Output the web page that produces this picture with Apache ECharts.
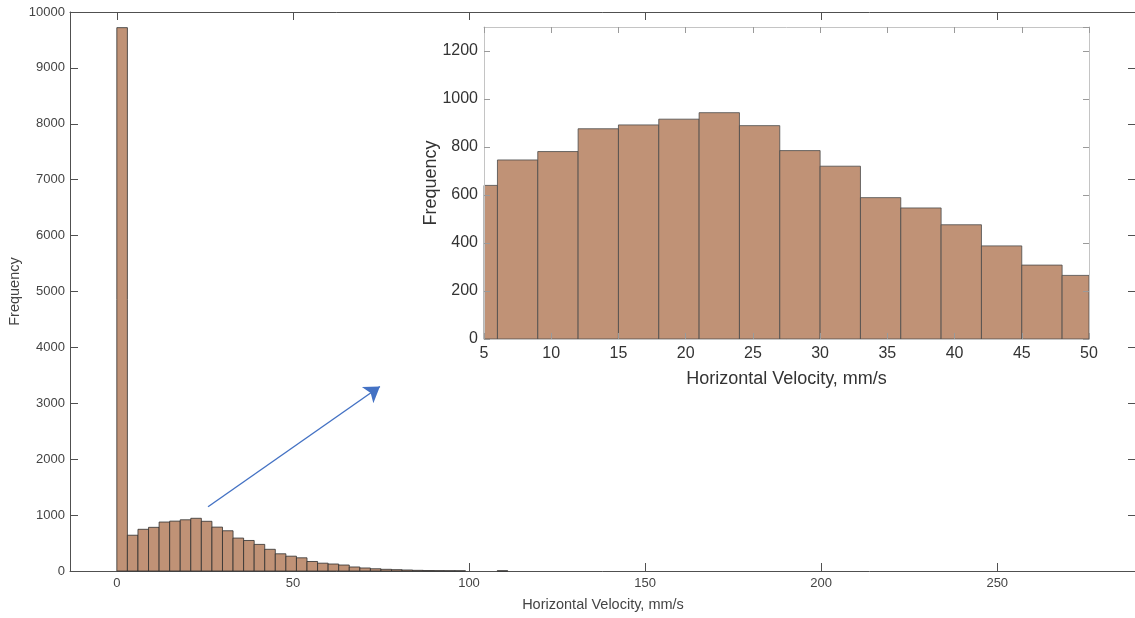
<!DOCTYPE html>
<html>
<head>
<meta charset="utf-8">
<title>Horizontal Velocity histogram</title>
<script src="https://cdn.jsdelivr.net/npm/echarts@6/dist/echarts.min.js"></script>
<style>
  html, body { margin: 0; padding: 0; background: #ffffff; }
  #chart { width: 1135px; height: 618px; }
</style>
</head>
<body>
<div id="chart"></div>
<script>
// Histogram bins: width 3 mm/s, starting at 0
const binStart = 0;
const binWidth = 3;
const counts = [
  9720, 640, 746, 781, 876, 892, 916, 943, 889, 785,
  720, 589, 546, 476, 388, 308, 265, 236, 170, 140,
  125, 107, 72, 54, 40, 30, 24, 18, 12, 8,
  6, 5, 4, 0, 0, 0, 4
];

// Axis ticks
const mainXTicks = [0, 50, 100, 150, 200, 250];
const axisTitleX = 'Horizontal Velocity, mm/s';
const axisTitleY = 'Frequency';

// Arrow pointing from the main histogram hump to the zoomed view
const arrowFrom = [25.9, 1150];
const arrowTo = [74.7, 3300];

const binData = counts.map((c, i) => [binStart + i * binWidth, binStart + (i + 1) * binWidth, c]);

const barFill = '#c09276';
const fontFamily = '"Liberation Sans", Arial, Helvetica, sans-serif';
const plain = v => String(v);

function histRenderer(strokeColor) {
  return function (params, api) {
    const x0 = api.value(0), x1 = api.value(1), y = api.value(2);
    if (!y) return null;
    const p0 = api.coord([x0, y]);
    const p1 = api.coord([x1, 0]);
    const cs = params.coordSys;
    const shape = echarts.graphic.clipRectByRect(
      { x: p0[0], y: p0[1], width: p1[0] - p0[0], height: p1[1] - p0[1] },
      { x: cs.x, y: cs.y, width: cs.width, height: cs.height }
    );
    if (!shape) return null;
    return {
      type: 'rect',
      shape: shape,
      style: { fill: barFill, stroke: strokeColor, lineWidth: 0.8 }
    };
  };
}

const mainLine = { show: true, onZero: false, lineStyle: { color: '#505050', width: 1 } };
const mainTick = { show: true, inside: true, length: 8, lineStyle: { color: '#505050', width: 1 } };
const mainLabel = { color: '#444444', fontSize: 13, fontFamily: fontFamily, formatter: plain };
const mainName = { color: '#444444', fontSize: 14.5, fontFamily: fontFamily };

const inLine = { show: true, onZero: false, lineStyle: { color: '#c4c4c4', width: 1 } };
const inTick = { show: true, inside: true, length: 6, lineStyle: { color: '#9a9a9a', width: 1 } };
const inLabel = { color: '#333333', fontSize: 16, fontFamily: fontFamily, formatter: plain };
const inName = { color: '#333333', fontSize: 18, fontFamily: fontFamily };

const chart = echarts.init(document.getElementById('chart'), null, { renderer: 'canvas' });

chart.setOption({
  backgroundColor: '#ffffff',
  animation: false,
  grid: [
    { left: 70, top: 12, right: -1, bottom: 47, containLabel: false, outerBoundsMode: 'none' },
    { left: 484, top: 27, width: 605, height: 312, containLabel: false, outerBoundsMode: 'none',
      show: true, backgroundColor: '#ffffff', borderWidth: 0, z: 10 }
  ],
  xAxis: [
    {
      type: 'value', gridIndex: 0, position: 'bottom',
      min: -13.3, max: 289.4,
      axisLine: mainLine,
      axisTick: Object.assign({ customValues: mainXTicks }, mainTick),
      axisLabel: Object.assign({ customValues: mainXTicks, margin: 6 }, mainLabel),
      splitLine: { show: false },
      name: axisTitleX, nameLocation: 'middle', nameGap: 26,
      nameTextStyle: mainName
    },
    {
      type: 'value', gridIndex: 0, position: 'top',
      min: -13.3, max: 289.4,
      axisLine: mainLine,
      axisTick: Object.assign({ customValues: mainXTicks }, mainTick),
      axisLabel: { show: false },
      splitLine: { show: false }
    },
    {
      type: 'value', gridIndex: 1, position: 'bottom',
      min: 5, max: 50, interval: 5, z: 12,
      axisLine: inLine, axisTick: inTick,
      axisLabel: Object.assign({ margin: 7 }, inLabel),
      splitLine: { show: false },
      name: axisTitleX, nameLocation: 'middle', nameGap: 31,
      nameTextStyle: inName
    },
    {
      type: 'value', gridIndex: 1, position: 'top',
      min: 5, max: 50, interval: 5, z: 12,
      axisLine: inLine, axisTick: inTick,
      axisLabel: { show: false }, splitLine: { show: false }
    }
  ],
  yAxis: [
    {
      type: 'value', gridIndex: 0, position: 'left',
      min: 0, max: 10000, interval: 1000,
      axisLine: mainLine, axisTick: mainTick,
      axisLabel: Object.assign({ margin: 5 }, mainLabel),
      splitLine: { show: false },
      name: axisTitleY, nameLocation: 'middle', nameGap: 48, nameMoveOverlap: false,
      nameTextStyle: mainName
    },
    {
      type: 'value', gridIndex: 0, position: 'right',
      min: 0, max: 10000, interval: 1000,
      axisLine: mainLine, axisTick: mainTick,
      axisLabel: { show: false }, splitLine: { show: false }
    },
    {
      type: 'value', gridIndex: 1, position: 'left',
      min: 0, max: 1300, interval: 200, z: 12,
      axisLine: inLine, axisTick: inTick,
      axisLabel: Object.assign({ margin: 6, showMaxLabel: false }, inLabel),
      splitLine: { show: false },
      name: axisTitleY, nameLocation: 'middle', nameGap: 44, nameMoveOverlap: false,
      nameTextStyle: inName
    },
    {
      type: 'value', gridIndex: 1, position: 'right',
      min: 0, max: 1300, interval: 200, z: 12,
      axisLine: inLine, axisTick: inTick,
      axisLabel: { show: false }, splitLine: { show: false }
    }
  ],
  series: [
    {
      name: 'main', type: 'custom', xAxisIndex: 0, yAxisIndex: 0,
      renderItem: histRenderer('#2e2e2e'),
      encode: { x: [0, 1], y: 2 },
      data: binData, z: 2
    },
    {
      name: 'arrow', type: 'lines', coordinateSystem: 'cartesian2d',
      xAxisIndex: 0, yAxisIndex: 0,
      symbol: ['none', 'arrow'], symbolSize: 15,
      lineStyle: { color: '#4472c4', width: 1.4, opacity: 1 },
      data: [{ coords: [arrowFrom, arrowTo] }], z: 3
    },
    {
      name: 'zoom', type: 'custom', xAxisIndex: 2, yAxisIndex: 2,
      renderItem: histRenderer('#4a4a4a'),
      encode: { x: [0, 1], y: 2 },
      data: binData, z: 11
    }
  ]
});
</script>
</body>
</html>
